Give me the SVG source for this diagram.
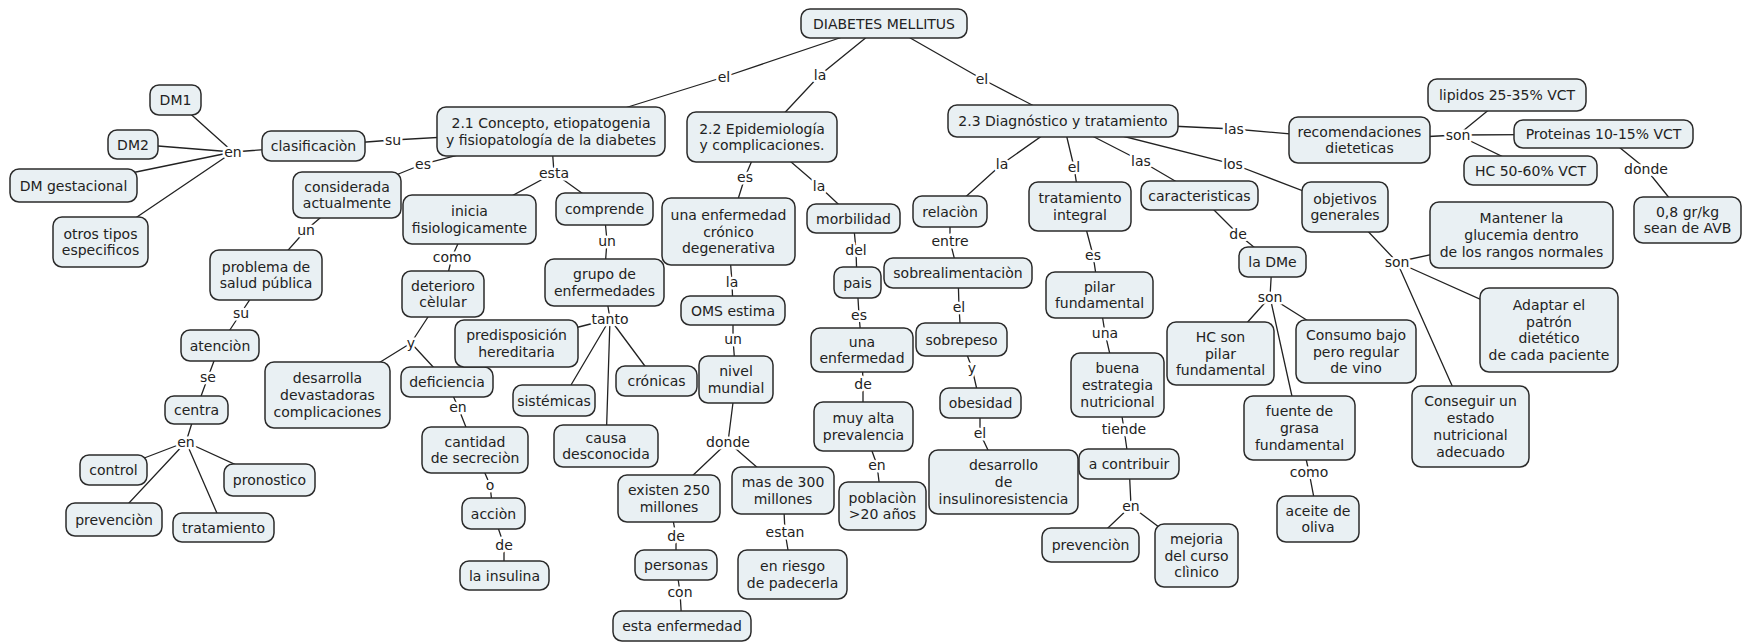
<svg xmlns="http://www.w3.org/2000/svg" width="1751" height="643" viewBox="0 0 1751 643">
<style>
text{font-family:"DejaVu Sans",Verdana,sans-serif;font-size:14px;fill:#222;text-anchor:middle}
.node rect{fill:#e9f0f3;stroke:#2b2b2b;stroke-width:1.5}
.links path{fill:none;stroke:#222;stroke-width:1.3}
.lbl{stroke:#fff;stroke-width:5;stroke-linejoin:round;paint-order:stroke}
</style>
<rect width="1751" height="643" fill="#fff"/>
<g id="connectors" class="links">
<path d="M884 23L724 77L551 131M884 23L820 75L762 137M884 23L982 79L1063 121"/>
<path d="M551 131L393 140L313 146M313 146L233 152M233 152L175 100M233 152L133 144M233 152L73 185M233 152L100 242"/>
<path d="M551 131L423 164L347 195M347 195L306 230L266 275M266 275L241 313L220 345M220 345L208 377L196 410M196 410L186 442M186 442L113 470M186 442L269 480M186 442L114 519M186 442L223 527"/>
<path d="M551 131L554 173M554 173L469 219M554 173L604 209M469 219L452 257L443 294M443 294L411 343M411 343L327 395M411 343L447 382M447 382L458 407L475 450M475 450L490 485L493 513M493 513L504 545L504 575"/>
<path d="M604 209L607 241L604 282M604 282L610 319M610 319L516 343M610 319L571 385M610 319L606 446M610 319L656 381"/>
<path d="M762 137L745 177L728 231M762 137L819 186L853 218M728 231L732 282L733 310M733 310L733 339L736 379M736 379L728 442M728 442L669 498M728 442L783 490M669 498L676 536L676 565M676 565L680 592L682 626M783 490L785 532L792 574"/>
<path d="M853 218L856 250L857 282M857 282L859 315L862 350M862 350L863 384L863 426M863 426L877 465L882 506"/>
<path d="M1063 121L1002 164L950 211M950 211L950 241L958 273M958 273L959 307L961 339M961 339L972 368L980 403M980 403L980 433L1003 482"/>
<path d="M1063 121L1074 167L1080 206M1080 206L1093 255L1099 295M1099 295L1105 333L1117 385M1117 385L1124 429L1129 464M1129 464L1131 506M1131 506L1090 545M1131 506L1196 555"/>
<path d="M1063 121L1141 161L1199 195M1199 195L1238 234L1272 262M1272 262L1270 297M1270 297L1220 353M1270 297L1356 351M1270 297L1299 428M1299 428L1309 472L1318 519"/>
<path d="M1063 121L1234 129L1359 140M1359 140L1458 135M1458 135L1507 95M1458 135L1603 134M1458 135L1530 170M1603 134L1646 169L1687 220"/>
<path d="M1063 121L1233 164L1345 207M1345 207L1397 262M1397 262L1521 235M1397 262L1549 330M1397 262L1470 426"/>
<g id="labels">
<text class="lbl" x="724" y="82">el</text>
<text class="lbl" x="820" y="80">la</text>
<text class="lbl" x="982" y="84">el</text>
<text class="lbl" x="393" y="145">su</text>
<text class="lbl" x="233" y="157">en</text>
<text class="lbl" x="423" y="169">es</text>
<text class="lbl" x="306" y="235">un</text>
<text class="lbl" x="241" y="318">su</text>
<text class="lbl" x="208" y="382">se</text>
<text class="lbl" x="186" y="447">en</text>
<text class="lbl" x="554" y="178">esta</text>
<text class="lbl" x="452" y="262">como</text>
<text class="lbl" x="411" y="348">y</text>
<text class="lbl" x="458" y="412">en</text>
<text class="lbl" x="490" y="490">o</text>
<text class="lbl" x="504" y="550">de</text>
<text class="lbl" x="607" y="246">un</text>
<text class="lbl" x="610" y="324">tanto</text>
<text class="lbl" x="745" y="182">es</text>
<text class="lbl" x="819" y="191">la</text>
<text class="lbl" x="732" y="287">la</text>
<text class="lbl" x="733" y="344">un</text>
<text class="lbl" x="728" y="447">donde</text>
<text class="lbl" x="676" y="541">de</text>
<text class="lbl" x="680" y="597">con</text>
<text class="lbl" x="785" y="537">estan</text>
<text class="lbl" x="856" y="255">del</text>
<text class="lbl" x="859" y="320">es</text>
<text class="lbl" x="863" y="389">de</text>
<text class="lbl" x="877" y="470">en</text>
<text class="lbl" x="1002" y="169">la</text>
<text class="lbl" x="950" y="246">entre</text>
<text class="lbl" x="959" y="312">el</text>
<text class="lbl" x="972" y="373">y</text>
<text class="lbl" x="980" y="438">el</text>
<text class="lbl" x="1074" y="172">el</text>
<text class="lbl" x="1093" y="260">es</text>
<text class="lbl" x="1105" y="338">una</text>
<text class="lbl" x="1124" y="434">tiende</text>
<text class="lbl" x="1131" y="511">en</text>
<text class="lbl" x="1141" y="166">las</text>
<text class="lbl" x="1238" y="239">de</text>
<text class="lbl" x="1270" y="302">son</text>
<text class="lbl" x="1309" y="477">como</text>
<text class="lbl" x="1234" y="134">las</text>
<text class="lbl" x="1458" y="140">son</text>
<text class="lbl" x="1646" y="174">donde</text>
<text class="lbl" x="1233" y="169">los</text>
<text class="lbl" x="1397" y="267">son</text>
</g>
</g>
<g id="n-dm" class="node"><rect x="801" y="9" width="166" height="29" rx="9"/><text x="884" y="28.5">DIABETES MELLITUS</text></g>
<g id="n-c21" class="node"><rect x="437" y="107" width="228" height="49" rx="9"/><text x="551" y="128.1">2.1 Concepto, etiopatogenia<tspan x="551" dy="16.8">y fisiopatología de la diabetes</tspan></text></g>
<g id="n-c22" class="node"><rect x="687" y="112" width="150" height="50" rx="9"/><text x="762" y="133.6">2.2 Epidemiología<tspan x="762" dy="16.8">y complicaciones.</tspan></text></g>
<g id="n-c23" class="node"><rect x="948" y="105" width="230" height="32" rx="9"/><text x="1063" y="126">2.3 Diagnóstico y tratamiento</text></g>
<g id="n-clasif" class="node"><rect x="262" y="131" width="103" height="30" rx="9"/><text x="313.5" y="151">clasificaciòn</text></g>
<g id="n-dm1" class="node"><rect x="150" y="85" width="51" height="30" rx="9"/><text x="175.5" y="105">DM1</text></g>
<g id="n-dm2" class="node"><rect x="108" y="130" width="50" height="29" rx="9"/><text x="133" y="149.5">DM2</text></g>
<g id="n-dmg" class="node"><rect x="10" y="169" width="127" height="33" rx="9"/><text x="73.5" y="190.5">DM gestacional</text></g>
<g id="n-otros" class="node"><rect x="53" y="217" width="95" height="50" rx="9"/><text x="100.5" y="238.6">otros tipos<tspan x="100.5" dy="16.8">especificos</tspan></text></g>
<g id="n-consid" class="node"><rect x="293" y="172" width="108" height="46" rx="9"/><text x="347" y="191.6">considerada<tspan x="347" dy="16.8">actualmente</tspan></text></g>
<g id="n-problema" class="node"><rect x="210" y="250" width="112" height="50" rx="9"/><text x="266" y="271.6">problema de<tspan x="266" dy="16.8">salud pública</tspan></text></g>
<g id="n-atencion" class="node"><rect x="181" y="330" width="78" height="31" rx="9"/><text x="220" y="350.5">atenciòn</text></g>
<g id="n-centra" class="node"><rect x="165" y="396" width="63" height="28" rx="9"/><text x="196.5" y="415">centra</text></g>
<g id="n-control" class="node"><rect x="80" y="455" width="67" height="30" rx="9"/><text x="113.5" y="475">control</text></g>
<g id="n-pronostico" class="node"><rect x="224" y="464" width="91" height="32" rx="9"/><text x="269.5" y="485">pronostico</text></g>
<g id="n-prevencion1" class="node"><rect x="66" y="503" width="96" height="33" rx="9"/><text x="114" y="524.5">prevenciòn</text></g>
<g id="n-tratamiento1" class="node"><rect x="173" y="513" width="101" height="29" rx="9"/><text x="223.5" y="532.5">tratamiento</text></g>
<g id="n-inicia" class="node"><rect x="403" y="195" width="133" height="49" rx="9"/><text x="469.5" y="216.1">inicia<tspan x="469.5" dy="16.8">fisiologicamente</tspan></text></g>
<g id="n-deterioro" class="node"><rect x="402" y="271" width="82" height="46" rx="9"/><text x="443" y="290.6">deterioro<tspan x="443" dy="16.8">cèlular</tspan></text></g>
<g id="n-desarrolla" class="node"><rect x="265" y="362" width="125" height="66" rx="9"/><text x="327.5" y="383.2">desarrolla<tspan x="327.5" dy="16.8">devastadoras</tspan><tspan x="327.5" dy="16.8">complicaciones</tspan></text></g>
<g id="n-deficiencia" class="node"><rect x="401" y="367" width="92" height="30" rx="9"/><text x="447" y="387">deficiencia</text></g>
<g id="n-cantidad" class="node"><rect x="422" y="427" width="106" height="46" rx="9"/><text x="475" y="446.6">cantidad<tspan x="475" dy="16.8">de secreciòn</tspan></text></g>
<g id="n-accion" class="node"><rect x="462" y="498" width="63" height="31" rx="9"/><text x="493.5" y="518.5">acciòn</text></g>
<g id="n-insulina" class="node"><rect x="460" y="561" width="89" height="29" rx="9"/><text x="504.5" y="580.5">la insulina</text></g>
<g id="n-comprende" class="node"><rect x="556" y="193" width="97" height="32" rx="9"/><text x="604.5" y="214">comprende</text></g>
<g id="n-grupo" class="node"><rect x="545" y="259" width="119" height="47" rx="9"/><text x="604.5" y="279.1">grupo de<tspan x="604.5" dy="16.8">enfermedades</tspan></text></g>
<g id="n-predisp" class="node"><rect x="455" y="320" width="123" height="47" rx="9"/><text x="516.5" y="340.1">predisposición<tspan x="516.5" dy="16.8">hereditaria</tspan></text></g>
<g id="n-sistemicas" class="node"><rect x="513" y="385" width="82" height="31" rx="9"/><text x="554" y="405.5">sistémicas</text></g>
<g id="n-causa" class="node"><rect x="554" y="425" width="104" height="42" rx="9"/><text x="606" y="442.6">causa<tspan x="606" dy="16.8">desconocida</tspan></text></g>
<g id="n-cronicas" class="node"><rect x="616" y="366" width="81" height="30" rx="9"/><text x="656.5" y="386">crónicas</text></g>
<g id="n-unaenf1" class="node"><rect x="662" y="198" width="133" height="67" rx="9"/><text x="728.5" y="219.7">una enfermedad<tspan x="728.5" dy="16.8">crónico</tspan><tspan x="728.5" dy="16.8">degenerativa</tspan></text></g>
<g id="n-oms" class="node"><rect x="681" y="296" width="104" height="29" rx="9"/><text x="733" y="315.5">OMS estima</text></g>
<g id="n-nivel" class="node"><rect x="699" y="356" width="74" height="47" rx="9"/><text x="736" y="376.1">nivel<tspan x="736" dy="16.8">mundial</tspan></text></g>
<g id="n-existen" class="node"><rect x="618" y="475" width="102" height="47" rx="9"/><text x="669" y="495.1">existen 250<tspan x="669" dy="16.8">millones</tspan></text></g>
<g id="n-mas300" class="node"><rect x="732" y="467" width="102" height="47" rx="9"/><text x="783" y="487.1">mas de 300<tspan x="783" dy="16.8">millones</tspan></text></g>
<g id="n-personas" class="node"><rect x="635" y="550" width="82" height="30" rx="9"/><text x="676" y="570">personas</text></g>
<g id="n-estaenf" class="node"><rect x="613" y="611" width="138" height="30" rx="9"/><text x="682" y="631">esta enfermedad</text></g>
<g id="n-riesgo" class="node"><rect x="738" y="550" width="109" height="49" rx="9"/><text x="792.5" y="571.1">en riesgo<tspan x="792.5" dy="16.8">de padecerla</tspan></text></g>
<g id="n-morbilidad" class="node"><rect x="807" y="204" width="93" height="29" rx="9"/><text x="853.5" y="223.5">morbilidad</text></g>
<g id="n-pais" class="node"><rect x="834" y="267" width="47" height="31" rx="9"/><text x="857.5" y="287.5">pais</text></g>
<g id="n-unaenf2" class="node"><rect x="811" y="328" width="102" height="44" rx="9"/><text x="862" y="346.6">una<tspan x="862" dy="16.8">enfermedad</tspan></text></g>
<g id="n-muyalta" class="node"><rect x="814" y="402" width="99" height="49" rx="9"/><text x="863.5" y="423.1">muy alta<tspan x="863.5" dy="16.8">prevalencia</tspan></text></g>
<g id="n-poblacion" class="node"><rect x="839" y="482" width="87" height="48" rx="9"/><text x="882.5" y="502.6">poblaciòn<tspan x="882.5" dy="16.8">&gt;20 años</tspan></text></g>
<g id="n-relacion" class="node"><rect x="913" y="196" width="74" height="31" rx="9"/><text x="950" y="216.5">relaciòn</text></g>
<g id="n-sobrealim" class="node"><rect x="884" y="258" width="148" height="30" rx="9"/><text x="958" y="278">sobrealimentaciòn</text></g>
<g id="n-sobrepeso" class="node"><rect x="916" y="323" width="91" height="33" rx="9"/><text x="961.5" y="344.5">sobrepeso</text></g>
<g id="n-obesidad" class="node"><rect x="940" y="388" width="81" height="30" rx="9"/><text x="980.5" y="408">obesidad</text></g>
<g id="n-desarrollo" class="node"><rect x="929" y="450" width="149" height="64" rx="9"/><text x="1003.5" y="470.2">desarrollo<tspan x="1003.5" dy="16.8">de</tspan><tspan x="1003.5" dy="16.8">insulinoresistencia</tspan></text></g>
<g id="n-tratint" class="node"><rect x="1029" y="182" width="102" height="49" rx="9"/><text x="1080" y="203.1">tratamiento<tspan x="1080" dy="16.8">integral</tspan></text></g>
<g id="n-pilar" class="node"><rect x="1046" y="272" width="107" height="46" rx="9"/><text x="1099.5" y="291.6">pilar<tspan x="1099.5" dy="16.8">fundamental</tspan></text></g>
<g id="n-buena" class="node"><rect x="1071" y="353" width="93" height="64" rx="9"/><text x="1117.5" y="373.2">buena<tspan x="1117.5" dy="16.8">estrategia</tspan><tspan x="1117.5" dy="16.8">nutricional</tspan></text></g>
<g id="n-contribuir" class="node"><rect x="1079" y="449" width="100" height="30" rx="9"/><text x="1129" y="469">a contribuir</text></g>
<g id="n-prevencion2" class="node"><rect x="1042" y="528" width="97" height="34" rx="9"/><text x="1090.5" y="550">prevenciòn</text></g>
<g id="n-mejoria" class="node"><rect x="1155" y="524" width="83" height="63" rx="9"/><text x="1196.5" y="543.7">mejoria<tspan x="1196.5" dy="16.8">del curso</tspan><tspan x="1196.5" dy="16.8">clìnico</tspan></text></g>
<g id="n-caract" class="node"><rect x="1141" y="181" width="117" height="29" rx="9"/><text x="1199.5" y="200.5">caracteristicas</text></g>
<g id="n-ladme" class="node"><rect x="1239" y="247" width="67" height="30" rx="9"/><text x="1272.5" y="267">la DMe</text></g>
<g id="n-hcpilar" class="node"><rect x="1167" y="322" width="107" height="63" rx="9"/><text x="1220.5" y="341.7">HC son<tspan x="1220.5" dy="16.8">pilar</tspan><tspan x="1220.5" dy="16.8">fundamental</tspan></text></g>
<g id="n-consumo" class="node"><rect x="1296" y="320" width="120" height="63" rx="9"/><text x="1356" y="339.7">Consumo bajo<tspan x="1356" dy="16.8">pero regular</tspan><tspan x="1356" dy="16.8">de vino</tspan></text></g>
<g id="n-fuente" class="node"><rect x="1244" y="396" width="111" height="64" rx="9"/><text x="1299.5" y="416.2">fuente de<tspan x="1299.5" dy="16.8">grasa</tspan><tspan x="1299.5" dy="16.8">fundamental</tspan></text></g>
<g id="n-aceite" class="node"><rect x="1277" y="496" width="82" height="46" rx="9"/><text x="1318" y="515.6">aceite de<tspan x="1318" dy="16.8">oliva</tspan></text></g>
<g id="n-reco" class="node"><rect x="1289" y="117" width="141" height="46" rx="9"/><text x="1359.5" y="136.6">recomendaciones<tspan x="1359.5" dy="16.8">dieteticas</tspan></text></g>
<g id="n-lipidos" class="node"><rect x="1428" y="79" width="158" height="32" rx="9"/><text x="1507" y="100">lipidos 25-35% VCT</text></g>
<g id="n-proteinas" class="node"><rect x="1514" y="120" width="179" height="28" rx="9"/><text x="1603.5" y="139">Proteinas 10-15% VCT</text></g>
<g id="n-hc5060" class="node"><rect x="1464" y="156" width="133" height="29" rx="9"/><text x="1530.5" y="175.5">HC 50-60% VCT</text></g>
<g id="n-avb" class="node"><rect x="1634" y="197" width="107" height="46" rx="9"/><text x="1687.5" y="216.6">0,8 gr/kg<tspan x="1687.5" dy="16.8">sean de AVB</tspan></text></g>
<g id="n-objetivos" class="node"><rect x="1302" y="182" width="86" height="50" rx="9"/><text x="1345" y="203.6">objetivos<tspan x="1345" dy="16.8">generales</tspan></text></g>
<g id="n-mantener" class="node"><rect x="1430" y="202" width="183" height="66" rx="9"/><text x="1521.5" y="223.2">Mantener la<tspan x="1521.5" dy="16.8">glucemia dentro</tspan><tspan x="1521.5" dy="16.8">de los rangos normales</tspan></text></g>
<g id="n-adaptar" class="node"><rect x="1480" y="288" width="138" height="84" rx="9"/><text x="1549" y="309.8">Adaptar el<tspan x="1549" dy="16.8">patrón</tspan><tspan x="1549" dy="16.8">dietético</tspan><tspan x="1549" dy="16.8">de cada paciente</tspan></text></g>
<g id="n-conseguir" class="node"><rect x="1412" y="386" width="117" height="81" rx="9"/><text x="1470.5" y="406.3">Conseguir un<tspan x="1470.5" dy="16.8">estado</tspan><tspan x="1470.5" dy="16.8">nutricional</tspan><tspan x="1470.5" dy="16.8">adecuado</tspan></text></g>
</svg>
